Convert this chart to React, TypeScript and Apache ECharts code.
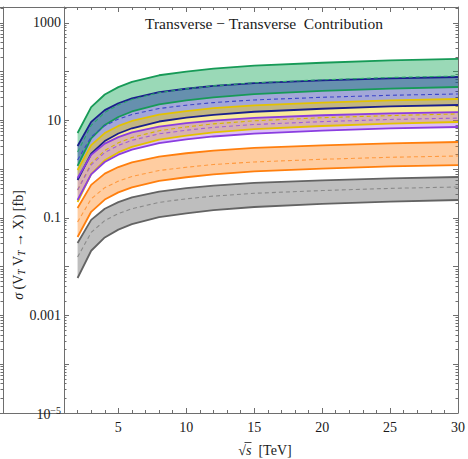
import { useEffect, useRef } from "react";
import * as echarts from "echarts";

// Collision energy sqrt(s) in TeV
const ENERGY = [2, 3, 4, 5, 6, 8, 10, 12, 15, 20, 25, 30];

// Cross sections in fb: upper edge, central value, lower edge of each band
const GREEN_HI = [5.55, 18.8, 34.1, 48.4, 61.8, 84.7, 101, 116, 133, 153, 171, 183];
const GREEN_MID = [2.26, 7.94, 14.6, 20.9, 26.9, 37.2, 44.5, 51.3, 59.3, 68.4, 76.2, 81.8];
const GREEN_LO = [1.17, 4.31, 8.11, 11.8, 15.3, 21.4, 25.8, 29.9, 34.8, 40.4, 45.2, 48.6];

const BLUE_HI = [3.0, 9.38, 16.3, 22.6, 28.4, 38.1, 44.8, 51.1, 58.2, 66.2, 73.1, 78.0];
const BLUE_MID = [1.55, 4.61, 7.83, 10.7, 13.3, 17.6, 20.6, 23.3, 26.4, 29.9, 32.9, 35.0];
const BLUE_LO = [0.601, 2.08, 3.79, 5.41, 6.93, 9.53, 11.4, 13.1, 15.1, 17.4, 19.4, 20.8];

const YELLOW_HI = [0.966, 3.13, 5.52, 7.73, 9.77, 13.2, 15.6, 17.9, 20.4, 23.3, 25.8, 27.6];
const YELLOW_MID = [0.375, 1.32, 2.43, 3.48, 4.47, 6.17, 7.38, 8.51, 9.84, 11.4, 12.6, 13.6];
const YELLOW_LO = [0.213, 0.798, 1.52, 2.21, 2.88, 4.06, 4.9, 5.7, 6.62, 7.71, 8.63, 9.31];

const PURPLE_HI = [0.662, 1.97, 3.35, 4.57, 5.69, 7.52, 8.79, 9.95, 11.3, 12.8, 14.0, 14.9];
const PURPLE_MID = [0.375, 1.23, 2.2, 3.09, 3.92, 5.32, 6.31, 7.23, 8.28, 9.48, 10.5, 11.2];
const PURPLE_LO = [0.234, 0.782, 1.41, 1.99, 2.53, 3.44, 4.09, 4.7, 5.4, 6.19, 6.87, 7.36];

const ORANGE_HI = [0.16, 0.478, 0.811, 1.11, 1.38, 1.82, 2.13, 2.42, 2.74, 3.1, 3.4, 3.62];
const ORANGE_MID = [0.0828, 0.247, 0.419, 0.571, 0.711, 0.942, 1.1, 1.25, 1.41, 1.6, 1.76, 1.87];
const ORANGE_LO = [0.0407, 0.134, 0.239, 0.336, 0.426, 0.578, 0.685, 0.785, 0.9, 1.03, 1.14, 1.22];

const GRAY_HI = [0.0307, 0.0914, 0.155, 0.212, 0.264, 0.349, 0.408, 0.462, 0.524, 0.593, 0.652, 0.693];
const GRAY_MID = [0.0158, 0.0505, 0.0885, 0.123, 0.155, 0.209, 0.247, 0.281, 0.321, 0.366, 0.405, 0.433];
const GRAY_LO = [0.00587, 0.0213, 0.0399, 0.0577, 0.0746, 0.104, 0.125, 0.145, 0.168, 0.195, 0.217, 0.234];

const Y_MIN = 1e-5;
const Y_MAX = 2128;
const X_MIN = 1;
const X_MAX = 30;

const SERIF = "'Liberation Serif', 'DejaVu Serif', serif";
const FRAME = "#6e6e6e";
const INK = "#1a1a1a";

type Band = {
  id: string;
  hi: number[];
  mid: number[];
  lo: number[];
  edge: string;
  dash: string;
  fill: string;
};

const BANDS: Band[] = [
  { id: "green", hi: GREEN_HI, mid: GREEN_MID, lo: GREEN_LO, edge: "#179a57", dash: "#2aa86a", fill: "rgba(30,170,95,0.45)" },
  { id: "blue", hi: BLUE_HI, mid: BLUE_MID, lo: BLUE_LO, edge: "#1a1f8c", dash: "#3c46c8", fill: "rgba(25,35,160,0.4)" },
  { id: "yellow", hi: YELLOW_HI, mid: YELLOW_MID, lo: YELLOW_LO, edge: "#e3c200", dash: "#d6b600", fill: "rgba(240,205,0,0.4)" },
  { id: "purple", hi: PURPLE_HI, mid: PURPLE_MID, lo: PURPLE_LO, edge: "#8a3de0", dash: "#a060d8", fill: "rgba(150,60,230,0.33)" },
  { id: "orange", hi: ORANGE_HI, mid: ORANGE_MID, lo: ORANGE_LO, edge: "#ff7f0e", dash: "#ff9a40", fill: "rgba(255,130,20,0.4)" },
  { id: "gray", hi: GRAY_HI, mid: GRAY_MID, lo: GRAY_LO, edge: "#636363", dash: "#8a8a8a", fill: "rgba(110,110,110,0.45)" },
];

const pairs = (ys: number[]) => ENERGY.map((x, i) => [x, ys[i]]);

function yTickLabel(v: number): string {
  const e = Math.log10(v);
  const r = Math.round(e);
  if (Math.abs(e - r) > 1e-6 || Math.abs(r) % 2 !== 1) return "";
  if (r <= -4) return `{n|10}{sup|−${Math.abs(r)}}`;
  if (r >= 0) return String(10 ** r);
  return (10 ** r).toFixed(-r);
}

function buildOption(): echarts.EChartsOption {
  const series: any[] = [];
  // shaded bands between the lower and upper edges
  BANDS.forEach((b) => {
    series.push({
      type: "custom",
      name: b.id + "-band",
      data: [[ENERGY[0], b.lo[0]]],
      encode: { x: 0, y: 1 },
      clip: true,
      z: 2,
      renderItem: (_p: any, api: any) => {
        const top = ENERGY.map((x, i) => api.coord([x, b.hi[i]]));
        const bottom = ENERGY.map((x, i) => api.coord([x, b.lo[i]])).reverse();
        return {
          type: "polygon",
          shape: { points: top.concat(bottom) },
          style: { fill: b.fill, stroke: "none" },
        };
      },
    });
  });
  // band edges and central values
  BANDS.forEach((b) => {
    [b.hi, b.lo].forEach((ys, k) => {
      series.push({
        type: "line",
        name: b.id + (k === 0 ? "-hi" : "-lo"),
        data: pairs(ys),
        showSymbol: false,
        lineStyle: { color: b.edge, width: 1.8 },
        z: 3,
      });
    });
    series.push({
      type: "line",
      name: b.id + "-mid",
      data: pairs(b.mid),
      showSymbol: false,
      lineStyle: { color: b.dash, width: 1.1, type: [4, 3] },
      z: 4,
    });
  });

  const xBase = {
    type: "value" as const,
    gridIndex: 0,
    min: X_MIN,
    max: X_MAX,
    splitLine: { show: false },
  };
  const yBase = {
    type: "log" as const,
    gridIndex: 0,
    min: Y_MIN,
    max: Y_MAX,
    logBase: 10,
    splitLine: { show: false },
  };

  return {
    animation: false,
    backgroundColor: "#ffffff",
    title: {
      text: "Transverse − Transverse  Contribution",
      left: 140,
      top: 10,
      textStyle: { fontFamily: SERIF, fontSize: 15.5, fontWeight: "normal", color: INK },
    },
    grid: [
      { left: 64, right: 10, top: 7, bottom: 46 },
      { left: -497, right: 465, top: 7, bottom: 46 },
    ],
    xAxis: [
      {
        ...xBase,
        position: "bottom",
        axisLine: { show: true, lineStyle: { color: FRAME, width: 1 } },
        axisTick: { show: true, inside: true, length: 5, lineStyle: { color: FRAME } },
        axisLabel: {
          fontFamily: SERIF,
          fontSize: 14,
          color: INK,
          margin: 7,
          formatter: (v: number) => (v % 5 === 0 ? String(v) : ""),
        },
      },
      {
        ...xBase,
        position: "bottom",
        interval: 1,
        axisLine: { show: false },
        axisTick: { show: true, inside: true, length: 3, lineStyle: { color: FRAME } },
        axisLabel: { show: false },
      },
      {
        ...xBase,
        position: "top",
        axisLine: { show: true, lineStyle: { color: FRAME, width: 1 } },
        axisTick: { show: true, inside: true, length: 5, lineStyle: { color: FRAME } },
        axisLabel: { show: false },
      },
      {
        ...xBase,
        position: "top",
        interval: 1,
        axisLine: { show: false },
        axisTick: { show: true, inside: true, length: 3, lineStyle: { color: FRAME } },
        axisLabel: { show: false },
      },
      {
        type: "value",
        gridIndex: 1,
        position: "bottom",
        min: 0,
        max: 1,
        axisLine: { show: true, lineStyle: { color: FRAME } },
        axisTick: { show: false },
        axisLabel: { show: false },
        splitLine: { show: false },
      },
      {
        type: "value",
        gridIndex: 1,
        position: "top",
        min: 0,
        max: 1,
        axisLine: { show: true, lineStyle: { color: FRAME } },
        axisTick: { show: false },
        axisLabel: { show: false },
        splitLine: { show: false },
      },
    ],
    yAxis: [
      {
        ...yBase,
        position: "left",
        axisLine: { show: true, lineStyle: { color: FRAME, width: 1 } },
        axisTick: { show: true, inside: true, length: 5, lineStyle: { color: FRAME } },
        minorTick: { show: true, splitNumber: 9, length: 2.5, lineStyle: { color: FRAME } },
        axisLabel: {
          fontFamily: SERIF,
          fontSize: 14,
          color: INK,
          margin: 3,
          formatter: yTickLabel,
          rich: {
            n: { fontFamily: SERIF, fontSize: 14, color: INK, lineHeight: 16, verticalAlign: "bottom" },
            sup: { fontFamily: SERIF, fontSize: 10, color: INK, lineHeight: 10, verticalAlign: "top" },
          },
        },
      },
      {
        ...yBase,
        position: "right",
        axisLine: { show: true, lineStyle: { color: FRAME, width: 1 } },
        axisTick: { show: true, inside: true, length: 5, lineStyle: { color: FRAME } },
        minorTick: { show: true, splitNumber: 9, length: 2.5, lineStyle: { color: FRAME } },
        axisLabel: { show: false },
      },
      {
        ...yBase,
        gridIndex: 1,
        position: "right",
        axisLine: { show: true, lineStyle: { color: FRAME, width: 1 } },
        axisTick: { show: true, inside: true, length: 5, lineStyle: { color: FRAME } },
        minorTick: { show: true, splitNumber: 9, length: 2.5, lineStyle: { color: FRAME } },
        axisLabel: { show: false },
      },
    ],
    graphic: [
      {
        type: "text",
        x: 18,
        y: 245,
        rotation: Math.PI / 2,
        style: {
          text: "{i|σ} (V{sub|T} V{sub|T} → X) [fb]",
          font: `14px ${SERIF}`,
          fill: INK,
          align: "center",
          verticalAlign: "middle",
          rich: {
            i: { fontFamily: SERIF, fontSize: 14, fontStyle: "italic", lineHeight: 18, verticalAlign: "middle" },
            sub: { fontFamily: SERIF, fontSize: 9.5, fontStyle: "italic", lineHeight: 9, verticalAlign: "bottom" },
          },
        } as any,
      },
      {
        type: "text",
        x: 265,
        y: 450,
        style: {
          text: "√{i|s}  [TeV]",
          font: `14px ${SERIF}`,
          fill: INK,
          align: "center",
          verticalAlign: "middle",
          rich: {
            i: { fontFamily: SERIF, fontSize: 14, fontStyle: "italic" },
          },
        } as any,
      },
      // vinculum of the square root over "s"
      {
        type: "line",
        shape: { x1: 244.5, y1: 442.5, x2: 251.5, y2: 442.5 },
        style: { stroke: INK, lineWidth: 0.8 },
      },
    ],
    series,
  } as echarts.EChartsOption;
}

export default function App() {
  const ref = useRef<HTMLDivElement>(null);
  useEffect(() => {
    if (!ref.current) return;
    const chart = echarts.init(ref.current, undefined, { renderer: "svg" });
    chart.setOption(buildOption());
    return () => chart.dispose();
  }, []);
  return (
    <div
      ref={ref}
      style={{ position: "fixed", left: 0, top: 0, width: 468, height: 459, background: "#fff" }}
    />
  );
}
